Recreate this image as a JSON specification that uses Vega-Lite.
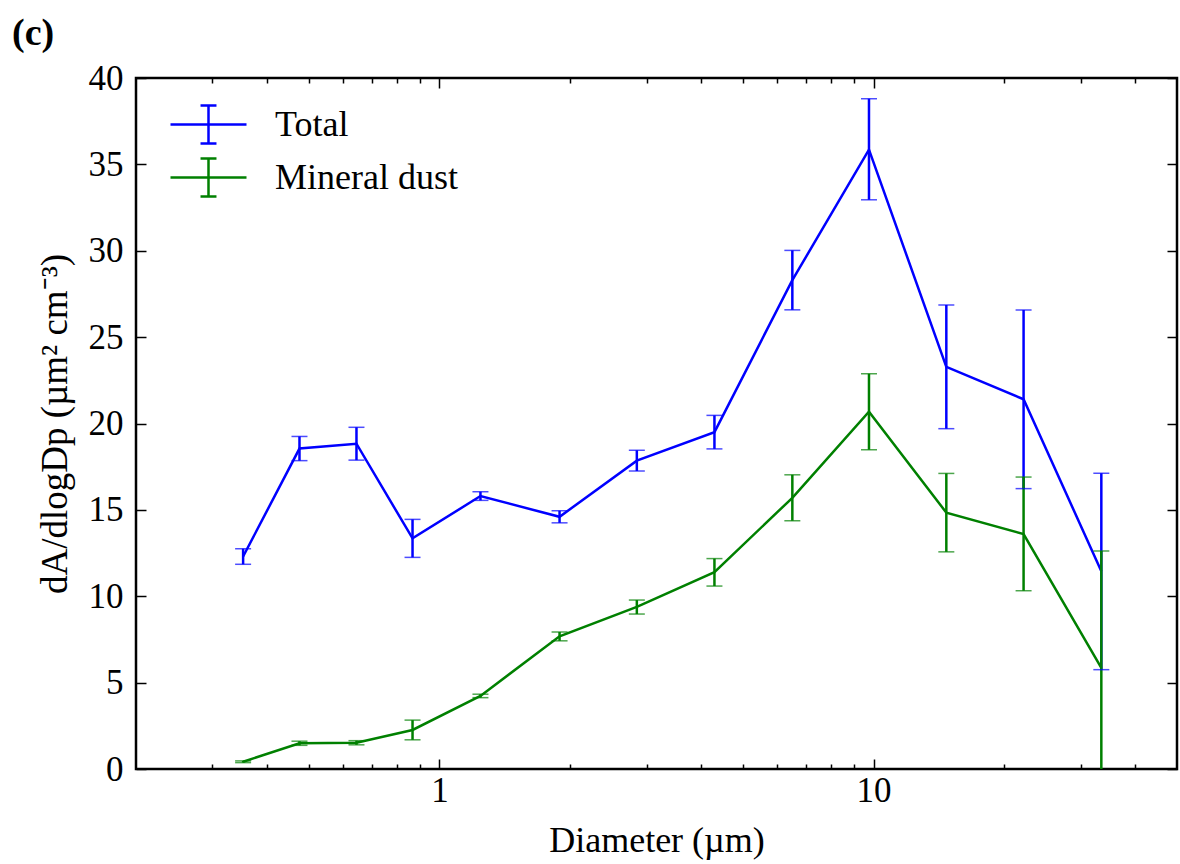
{
  "$schema": "https://vega.github.io/schema/vega-lite/v6.json",
  "width": 1041,
  "height": 691,
  "autosize": {"type": "none"},
  "padding": {"left": 136, "top": 78, "right": 3, "bottom": 95},
  "background": "white",
  "title": {"text": "(c)", "anchor": "start", "frame": "group", "dx": -124, "dy": 22, "offset": 0, "baseline": "alphabetic", "font": "Liberation Serif", "fontSize": 38, "fontWeight": "bold", "color": "black"},
  "data": {"values": [
    {"series": "Total", "d": 0.353, "y": 12.3, "lo": 11.85, "hi": 12.75},
    {"series": "Total", "d": 0.476, "y": 18.55, "lo": 17.85, "hi": 19.25},
    {"series": "Total", "d": 0.644, "y": 18.83, "lo": 17.88, "hi": 19.78},
    {"series": "Total", "d": 0.867, "y": 13.35, "lo": 12.25, "hi": 14.45},
    {"series": "Total", "d": 1.243, "y": 15.8, "lo": 15.55, "hi": 16.05},
    {"series": "Total", "d": 1.891, "y": 14.6, "lo": 14.25, "hi": 14.95},
    {"series": "Total", "d": 2.849, "y": 17.85, "lo": 17.25, "hi": 18.45},
    {"series": "Total", "d": 4.3, "y": 19.5, "lo": 18.53, "hi": 20.47},
    {"series": "Total", "d": 6.5, "y": 28.3, "lo": 26.58, "hi": 30.02},
    {"series": "Total", "d": 9.76, "y": 35.85, "lo": 32.95, "hi": 38.8},
    {"series": "Total", "d": 14.71, "y": 23.28, "lo": 19.7, "hi": 26.86},
    {"series": "Total", "d": 22.16, "y": 21.4, "lo": 16.23, "hi": 26.57},
    {"series": "Total", "d": 33.47, "y": 11.45, "lo": 5.75, "hi": 17.12},
    {"series": "Mineral dust", "d": 0.353, "y": 0.42, "lo": 0.37, "hi": 0.47},
    {"series": "Mineral dust", "d": 0.476, "y": 1.49, "lo": 1.37, "hi": 1.61},
    {"series": "Mineral dust", "d": 0.644, "y": 1.52, "lo": 1.4, "hi": 1.64},
    {"series": "Mineral dust", "d": 0.867, "y": 2.26, "lo": 1.69, "hi": 2.83},
    {"series": "Mineral dust", "d": 1.243, "y": 4.23, "lo": 4.13, "hi": 4.33},
    {"series": "Mineral dust", "d": 1.891, "y": 7.68, "lo": 7.42, "hi": 7.93},
    {"series": "Mineral dust", "d": 2.849, "y": 9.38, "lo": 8.97, "hi": 9.78},
    {"series": "Mineral dust", "d": 4.3, "y": 11.39, "lo": 10.59, "hi": 12.18},
    {"series": "Mineral dust", "d": 6.5, "y": 15.7, "lo": 14.37, "hi": 17.03},
    {"series": "Mineral dust", "d": 9.76, "y": 20.68, "lo": 18.48, "hi": 22.88},
    {"series": "Mineral dust", "d": 14.71, "y": 14.84, "lo": 12.57, "hi": 17.11},
    {"series": "Mineral dust", "d": 22.16, "y": 13.6, "lo": 10.32, "hi": 16.9},
    {"series": "Mineral dust", "d": 33.47, "y": 5.85, "lo": -0.92, "hi": 12.62}
  ]},
  "resolve": {"axis": {"x": "independent", "y": "independent"}},
  "layer": [
    {
      "mark": {"type": "point", "opacity": 0},
      "encoding": {
        "x": {"field": "d", "type": "quantitative", "scale": {"type": "log", "domain": [0.2, 50], "nice": false},
          "axis": {"orient": "bottom", "values": [0.3,0.4,0.5,0.6,0.7,0.8,0.9,2,3,4,5,6,7,8,9,20,30,40], "labels": false, "tickSize": -5, "tickWidth": 1.5, "tickColor": "black", "domain": false, "grid": false, "title": null}},
        "y": {"field": "y", "type": "quantitative", "axis": null}
      }
    },
    {
      "mark": {"type": "point", "opacity": 0},
      "encoding": {
        "x": {"field": "d", "type": "quantitative",
          "axis": {"orient": "top", "values": [0.3,0.4,0.5,0.6,0.7,0.8,0.9,2,3,4,5,6,7,8,9,20,30,40], "labels": false, "tickSize": -5, "tickWidth": 1.5, "tickColor": "black", "domain": false, "grid": false, "title": null}},
        "y": {"field": "y", "type": "quantitative", "axis": null}
      }
    },
    {
      "mark": {"type": "point", "opacity": 0},
      "encoding": {
        "x": {"field": "d", "type": "quantitative",
          "axis": {"orient": "top", "values": [1, 10], "labels": false, "tickSize": -10, "tickWidth": 1.5, "tickColor": "black", "domain": false, "grid": false, "title": null}},
        "y": {"field": "y", "type": "quantitative",
          "axis": {"orient": "right", "values": [0,5,10,15,20,25,30,35,40], "labels": false, "tickSize": -10, "tickWidth": 1.5, "tickColor": "black", "domain": false, "grid": false, "title": null}}
      }
    },
    {
      "mark": {"type": "line", "strokeWidth": 2.5, "clip": true},
      "encoding": {
        "x": {"field": "d", "type": "quantitative",
          "axis": {"orient": "bottom", "values": [1, 10], "format": "d", "tickSize": -10, "tickWidth": 1.5, "tickColor": "black", "domain": false, "grid": false,
            "labelFont": "Liberation Serif", "labelFontSize": 35, "labelColor": "black", "labelPadding": 14,
            "title": "Diameter (µm)", "titleFont": "Liberation Serif", "titleFontSize": 36, "titleFontWeight": "normal", "titleColor": "black", "titlePadding": 15}},
        "y": {"field": "y", "type": "quantitative", "scale": {"domain": [0, 40], "nice": false},
          "axis": {"orient": "left", "values": [0,5,10,15,20,25,30,35,40], "tickSize": -10, "tickWidth": 1.5, "tickColor": "black", "domain": false, "grid": false,
            "labelFont": "Liberation Serif", "labelFontSize": 35, "labelColor": "black", "labelPadding": 23,
            "title": "dA/dlogDp (µm² cm⁻³)", "titleFont": "Liberation Serif", "titleFontSize": 37, "titleFontWeight": "normal", "titleColor": "black", "titlePadding": 14}},
        "color": {"field": "series", "type": "nominal",
          "scale": {"domain": ["Total", "Mineral dust"], "range": ["#0000ff", "#008000"]},
          "legend": {"orient": "none", "legendX": 52, "legendY": 26, "title": null,
            "symbolType": "M-2,0L2,0M0,-1L0,1M-0.42,-1L0.42,-1M-0.42,1L0.42,1",
            "symbolSize": 1444, "symbolStrokeWidth": 2.5, "symbolFillColor": "transparent",
            "labelFont": "Liberation Serif", "labelFontSize": 36, "labelColor": "black", "labelOffset": 46, "rowPadding": 4, "labelLimit": 400}}
      }
    },
    {
      "mark": {"type": "rule", "strokeWidth": 2.5, "clip": true},
      "encoding": {
        "x": {"field": "d", "type": "quantitative", "axis": null},
        "y": {"field": "lo", "type": "quantitative", "axis": null},
        "y2": {"field": "hi"},
        "color": {"field": "series", "type": "nominal", "legend": null}
      }
    },
    {
      "mark": {"type": "tick", "orient": "horizontal", "size": 16, "thickness": 1.5, "clip": true},
      "encoding": {
        "x": {"field": "d", "type": "quantitative", "axis": null},
        "y": {"field": "lo", "type": "quantitative", "axis": null},
        "color": {"field": "series", "type": "nominal", "legend": null}
      }
    },
    {
      "mark": {"type": "tick", "orient": "horizontal", "size": 16, "thickness": 1.5, "clip": true},
      "encoding": {
        "x": {"field": "d", "type": "quantitative", "axis": null},
        "y": {"field": "hi", "type": "quantitative", "axis": null},
        "color": {"field": "series", "type": "nominal", "legend": null}
      }
    }
  ],
  "config": {
    "view": {"stroke": "black", "strokeWidth": 2.5},
    "font": "Liberation Serif"
  }
}
